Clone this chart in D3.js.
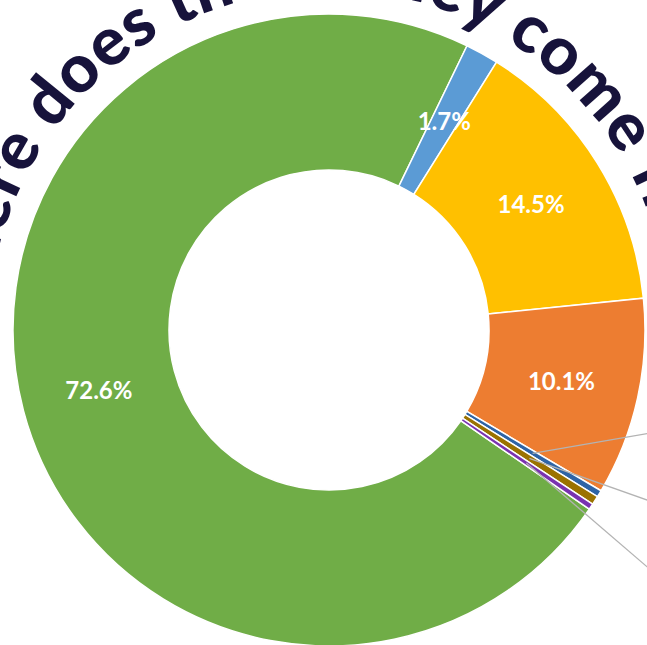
<!DOCTYPE html>
<html>
<head>
<meta charset="utf-8">
<script src="https://cdn.jsdelivr.net/npm/d3@7"></script>
<style>
  html, body { margin: 0; padding: 0; background: #fff; overflow: hidden; }
</style>
</head>
<body>
<svg id="vis"></svg>
<script>
const WIDTH = 647;
const HEIGHT = 645;

// datos del gráfico
const TITULO = "Where does the money come from?";
const CATEGORIAS = ["a", "b", "c", "d", "e", "f", "g"];
const VALORES = [72.6, 1.7, 14.5, 10.1, 0.35, 0.45, 0.3];
const ETIQUETAS = ["72.6%", "1.7%", "14.5%", "10.1%", "", "", ""];
const COLORES = ["#70ad47", "#5b9bd5", "#ffc000", "#ed7d31", "#2e64a6", "#9b7200", "#7a32b0"];
// slices con línea guía hacia etiquetas fuera del recuadro
const CON_GUIA = ["e", "f", "g"];

const CENTRO = { x: 329, y: 330 };
const R_EXT = 316;
const R_INT = 160;
const R_TITULO = 340;
const INICIO = (25.9 - 261.36) * Math.PI / 180;

const svg = d3.select("#vis").attr("width", WIDTH).attr("height", HEIGHT);

const contenedor = svg
  .append("g")
  .attr("transform", `translate(${CENTRO.x} ${CENTRO.y})`);

// título curvo (queda detrás de la dona)
function punto(r, grados) {
  const a = grados * Math.PI / 180;
  return [r * Math.sin(a), -r * Math.cos(a)];
}
const p0 = punto(R_TITULO, -170);
const p1 = punto(R_TITULO, 170);
contenedor
  .append("path")
  .attr("id", "curva-titulo")
  .attr("fill", "none")
  .attr("d", `M ${p0[0]} ${p0[1]} A ${R_TITULO} ${R_TITULO} 0 1 1 ${p1[0]} ${p1[1]}`);

contenedor
  .append("text")
  .attr("font-family", "Lato, sans-serif")
  .attr("font-weight", 900)
  .attr("font-size", "67px")
  .attr("letter-spacing", "1px")
  .attr("fill", "#17133b")
  .append("textPath")
  .attr("href", "#curva-titulo")
  .attr("startOffset", "50%")
  .attr("text-anchor", "middle")
  .text(TITULO);

const datos = CATEGORIAS.map((c, i) => ({
  categoria: c,
  valor: VALORES[i],
  etiqueta: ETIQUETAS[i],
  color: COLORES[i],
}));

const pie = d3
  .pie()
  .sort(null)
  .value((d) => d.valor)
  .startAngle(INICIO)
  .endAngle(INICIO + 2 * Math.PI);

const arco = d3.arc().innerRadius(R_INT).outerRadius(R_EXT);
const arcoEtiqueta = d3.arc().innerRadius(R_INT).outerRadius(R_EXT);

const slices = pie(datos);

contenedor
  .selectAll("path.slice")
  .data(slices)
  .join("path")
  .attr("class", "slice")
  .attr("d", arco)
  .attr("fill", (d) => d.data.color)
  .attr("stroke", "white")
  .attr("stroke-width", 1.5);

// líneas guía (las etiquetas quedan fuera del recuadro)
const DESTINO_X = 380;
const DESTINO_Y = [93, 192, 290];
contenedor
  .selectAll("line.guia")
  .data(slices.filter((d) => CON_GUIA.includes(d.data.categoria)))
  .join("line")
  .attr("class", "guia")
  .attr("x1", (d) => arcoEtiqueta.centroid(d)[0])
  .attr("y1", (d) => arcoEtiqueta.centroid(d)[1])
  .attr("x2", DESTINO_X)
  .attr("y2", (_, i) => DESTINO_Y[i])
  .attr("stroke", "#b3b3b3")
  .attr("stroke-width", 1.3);

contenedor
  .selectAll("text.pct")
  .data(slices.filter((d) => d.data.etiqueta))
  .join("text")
  .attr("class", "pct")
  .attr("x", (d) => arcoEtiqueta.centroid(d)[0])
  .attr("y", (d) => arcoEtiqueta.centroid(d)[1])
  .attr("dy", "0.36em")
  .attr("text-anchor", "middle")
  .attr("font-family", "Lato, sans-serif")
  .attr("font-weight", 700)
  .attr("font-size", "24px")
  .attr("fill", "white")
  .text((d) => d.data.etiqueta);
</script>
</body>
</html>
